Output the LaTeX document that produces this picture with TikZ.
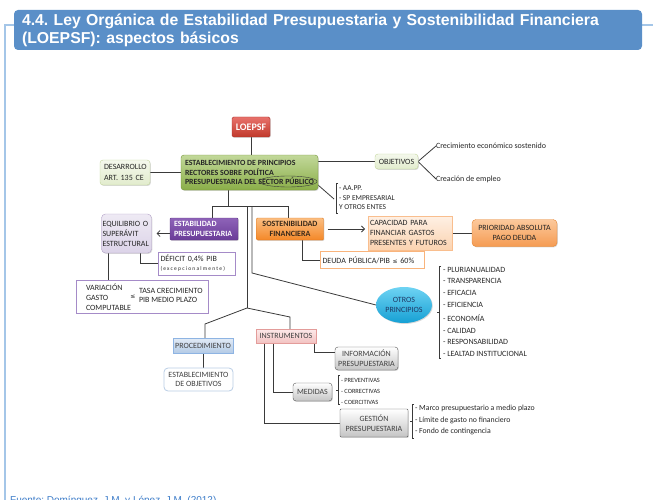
\documentclass[tikz,border=0pt]{standalone}
\usepackage{fontspec}
\setmainfont{Carlito}
\newfontfamily\headfont{Liberation Sans}
\newfontfamily\symfont{DejaVu Sans}
\usetikzlibrary{shadows,arrows.meta,shapes.geometric,calc}
\pgfdeclarelayer{background}
\pgfsetlayers{background,main}
\frenchspacing

\definecolor{hdrblue}{HTML}{5A8FC8}
\definecolor{framecol}{HTML}{A4C6E8}
\definecolor{srccol}{HTML}{3B7BC8}
\definecolor{lncol}{HTML}{3A3A3A}
\definecolor{txt}{HTML}{262626}
\definecolor{gtxt}{HTML}{404040}
\definecolor{redT}{HTML}{E8716B}
\definecolor{redB}{HTML}{C0392B}
\definecolor{redD}{HTML}{A8302A}
\definecolor{grnT}{HTML}{C2D89A}
\definecolor{grnB}{HTML}{8AAE48}
\definecolor{grnD}{HTML}{76963A}
\definecolor{lgrT}{HTML}{F4F8EC}
\definecolor{lgrB}{HTML}{E2ECCD}
\definecolor{lgrD}{HTML}{C3D69B}
\definecolor{purT}{HTML}{8E63B8}
\definecolor{purB}{HTML}{6A3C98}
\definecolor{purD}{HTML}{5F3787}
\definecolor{lpuT}{HTML}{EEEAF4}
\definecolor{lpuB}{HTML}{DCD3E8}
\definecolor{lpuD}{HTML}{B2A1C7}
\definecolor{wpuD}{HTML}{A58BC8}
\definecolor{orgT}{HTML}{FBBE82}
\definecolor{orgB}{HTML}{F48828}
\definecolor{orgD}{HTML}{E07A20}
\definecolor{orgX}{HTML}{3A2A1A}
\definecolor{pchT}{HTML}{FEF0E4}
\definecolor{pchB}{HTML}{FBD3B0}
\definecolor{pchD}{HTML}{F9BE8E}
\definecolor{priT}{HTML}{FCC99C}
\definecolor{priB}{HTML}{F59B52}
\definecolor{priD}{HTML}{E58430}
\definecolor{worD}{HTML}{F9B47C}
\definecolor{cyaT}{HTML}{6ED3F3}
\definecolor{cyaB}{HTML}{16A0D4}
\definecolor{cyaX}{HTML}{1F3864}
\definecolor{bluT}{HTML}{E2EBF6}
\definecolor{bluB}{HTML}{B4CBE6}
\definecolor{bluD}{HTML}{8EB4E3}
\definecolor{wblD}{HTML}{B9CDE5}
\definecolor{pnkT}{HTML}{FDEAEA}
\definecolor{pnkB}{HTML}{F2C2C1}
\definecolor{pnkD}{HTML}{E39C9A}
\definecolor{gryB}{HTML}{C4C4C4}
\definecolor{gryD}{HTML}{555555}

\tikzset{
  base/.style={inner sep=0pt, outer sep=0pt, text=txt, align=center,
    font=\fontsize{8}{10}\selectfont},
  shd/.style={drop shadow={shadow xshift=0.8pt, shadow yshift=-0.9pt, opacity=0.3}},
  ln/.style={draw=lncol, line width=0.8pt},
  brk/.style={draw=lncol, line width=0.5pt},
  barb/.style={-{Straight Barb[length=3pt,width=6pt]}},
  item/.style={base, anchor=west, align=left},
  redbox/.style={base, shd, rounded corners=1.5pt, top color=redT, bottom color=redB,
    draw=redD, text=white, font=\fontsize{10}{12}\selectfont\bfseries},
  greenbox/.style={base, shd, rounded corners=3pt, top color=grnT, bottom color=grnB,
    draw=grnD, font=\fontsize{7.9}{9.7}\selectfont\bfseries},
  lgreenbox/.style={base, shd, rounded corners=3pt, top color=lgrT, bottom color=lgrB,
    draw=lgrD},
  purplebox/.style={base, shd, rounded corners=1pt, top color=purT, bottom color=purB,
    draw=purD, text=white, font=\fontsize{8}{10}\selectfont\bfseries},
  lpurplebox/.style={base, shd, rounded corners=4pt, top color=lpuT, bottom color=lpuB,
    draw=lpuD},
  wpurplebox/.style={base, fill=white, draw=wpuD, line width=0.8pt},
  orangebox/.style={base, shd, rounded corners=1pt, top color=orgT, bottom color=orgB,
    draw=orgD, text=orgX, font=\fontsize{8}{10}\selectfont\bfseries},
  peachbox/.style={base, shd, top color=pchT, bottom color=pchB, draw=pchD},
  priobox/.style={base, shd, rounded corners=4pt, top color=priT, bottom color=priB,
    draw=priD},
  worangebox/.style={base, fill=white, draw=worD, line width=0.8pt},
  cyanell/.style={base, shd, ellipse, top color=cyaT, bottom color=cyaB, text=cyaX},
  bluebox/.style={base, shd, top color=bluT, bottom color=bluB, draw=bluD, text=gtxt},
  wbluebox/.style={base, fill=white, rounded corners=4pt, draw=wblD, line width=0.8pt,
    text=gtxt},
  pinkbox/.style={base, shd, top color=pnkT, bottom color=pnkB, draw=pnkD, text=gtxt},
  graybox/.style={base, shd, rounded corners=3pt, top color=white, bottom color=gryB,
    draw=gryD, text=gtxt},
}

\begin{document}
\begin{tikzpicture}[x=1pt,y=-1pt]
\useasboundingbox (0,0) rectangle (653,500);

% title bar and frame
\node[fill=hdrblue, rounded corners=4pt, inner xsep=8pt, inner ysep=0pt,
  minimum width=628pt, minimum height=40pt, text width=612pt, align=left, text=white,
  font=\headfont\bfseries\fontsize{15.8}{18}\selectfont] (hdr) at (328,30)
  {4.4. Ley Orgánica de Estabilidad Presupuestaria y Sostenibilidad Financiera\\
   (LOEPSF): aspectos básicos};
\begin{pgfonlayer}{background}
\draw[framecol, line width=1.1pt] (hdr.west |- 0,25) -- (5,25) -- (5,500);
\draw[framecol, line width=1.1pt] (hdr.east |- 0,25) -- (653,25);
\end{pgfonlayer}

% source line
\node[anchor=base west, inner sep=0pt, text=srccol,
  font=\headfont\fontsize{10}{12}\selectfont] (src) at (10,503)
  {Fuente: Domínguez, J.M. y López, J.M. (2012)};

% top of the tree
\node[redbox, minimum width=38pt, minimum height=20pt] (loepsf) at (251,127) {LOEPSF};
\node[greenbox, minimum width=137pt, minimum height=35pt, align=left] (central) at (249.5,172.5)
  {ESTABLECIMIENTO DE PRINCIPIOS\\RECTORES SOBRE POLÍTICA\\PRESUPUESTARIA DEL SECTOR PÚBLICO};
\node[draw=lncol, line width=0.4pt, ellipse, inner sep=0pt, minimum width=58pt,
  minimum height=11pt] (mark) at (288,181.5) {};
\node[lgreenbox, minimum width=50pt, minimum height=25pt, text width=42pt, align=left,
  font=\fontsize{8}{11}\selectfont] (des) at (125,172.5) {DESARROLLO\\ART. 135 CE};
\node[lgreenbox, minimum width=43pt, minimum height=15pt] (obj) at (396.5,161.5) {OBJETIVOS};
\node[item] (crec) at (436,146) {Crecimiento económico sostenido};
\node[item] (empl) at (436,179) {Creación de empleo};

\node[item, font=\fontsize{7.5}{9}\selectfont] (aapp) at (339,188) {- AA.PP.};
\node[item, font=\fontsize{7.5}{8.5}\selectfont] (spe) at (339,202.5) {- SP EMPRESARIAL\\Y OTROS ENTES};

% stability branch
\node[purplebox, minimum width=68pt, minimum height=22pt, text width=60pt, align=left]
  (est) at (204,229) {ESTABILIDAD\\PRESUPUESTARIA};
\node[lpurplebox, minimum width=50pt, minimum height=39pt, text width=48pt, align=left]
  (equi) at (126.5,233.5) {EQUILIBRIO O\\SUPERÁVIT\\ESTRUCTURAL};
\node[wpurplebox, minimum width=77pt, minimum height=23pt, text width=72pt, align=left]
  (def) at (196.5,263.5)
  {DÉFICIT 0,4\% PIB\\[-1pt]{\fontsize{5.5}{6}\selectfont\addfontfeature{LetterSpace=22}(excepcionalmente)}};
\node[wpurplebox, minimum width=132pt, minimum height=33pt] (var) at (142,296.5) {};
\node[item, font=\fontsize{8}{10}\selectfont] (varl) at (86,297) {VARIACIÓN\\GASTO\\COMPUTABLE};
\node[base, font=\symfont\fontsize{6}{7}\selectfont] (le) at (133,297) {≤};
\node[item, font=\fontsize{8}{9.5}\selectfont] (varr) at (139,295.5) {TASA CRECIMIENTO\\PIB MEDIO PLAZO};

% sustainability branch
\node[orangebox, minimum width=67pt, minimum height=22pt] (sost) at (290,229)
  {SOSTENIBILIDAD\\FINANCIERA};
\node[peachbox, minimum width=84pt, minimum height=34pt, text width=80pt, align=left,
  font=\fontsize{8}{9.7}\selectfont] (cap) at (410,233)
  {CAPACIDAD PARA\\FINANCIAR GASTOS\\PRESENTES Y FUTUROS};
\node[priobox, minimum width=85pt, minimum height=27pt] (prio) at (514.5,233)
  {PRIORIDAD ABSOLUTA\\PAGO DEUDA};
\node[worangebox, minimum width=104pt, minimum height=17pt, text width=99pt, align=left]
  (deuda) at (372,260) {DEUDA PÚBLICA/PIB {\symfont\fontsize{6}{7}\selectfont ≤} 60\%};

% other principles
\node[cyanell, minimum width=56pt, minimum height=36pt] (otros) at (404,305) {OTROS\\PRINCIPIOS};
\node[item] (p1) at (443,270) {- PLURIANUALIDAD};
\node[item] (p2) at (443,281) {- TRANSPARENCIA};
\node[item] (p3) at (443,293) {- EFICACIA};
\node[item] (p4) at (443,305) {- EFICIENCIA};
\node[item] (p5) at (443,318) {- ECONOMÍA};
\node[item] (p6) at (443,330.5) {- CALIDAD};
\node[item] (p7) at (443,342) {- RESPONSABILIDAD};
\node[item] (p8) at (443,353.5) {- LEALTAD INSTITUCIONAL};

% procedure and instruments
\node[bluebox, minimum width=60pt, minimum height=15pt] (proc) at (203,345.5) {PROCEDIMIENTO};
\node[wbluebox, minimum width=69pt, minimum height=23pt, font=\fontsize{8}{9.8}\selectfont]
  (estobj) at (198.5,379.5) {ESTABLECIMIENTO\\DE OBJETIVOS};
\node[pinkbox, minimum width=60pt, minimum height=14pt] (instr) at (286,336) {INSTRUMENTOS};
\node[graybox, minimum width=63pt, minimum height=23pt, font=\fontsize{8}{9.8}\selectfont]
  (info) at (366.5,358.5) {INFORMACIÓN\\PRESUPUESTARIA};
\node[graybox, minimum width=39pt, minimum height=18pt] (med) at (312.5,392) {MEDIDAS};
\node[item, font=\fontsize{6.4}{8}\selectfont] (m1) at (341,380) {- PREVENTIVAS};
\node[item, font=\fontsize{6.4}{8}\selectfont] (m2) at (341,391) {- CORRECTIVAS};
\node[item, font=\fontsize{6.4}{8}\selectfont] (m3) at (341,402) {- COERCITIVAS};
\node[graybox, rounded corners=1pt, minimum width=68pt, minimum height=28pt,
  font=\fontsize{8}{10.5}\selectfont] (gest) at (374,423) {GESTIÓN\\PRESUPUESTARIA};
\node[item, font=\fontsize{7.8}{9}\selectfont] (g1) at (415,408) {- Marco presupuestario a medio plazo};
\node[item, font=\fontsize{7.8}{9}\selectfont] (g2) at (415,420) {- Límite de gasto no financiero};
\node[item, font=\fontsize{7.8}{9}\selectfont] (g3) at (415,431.5) {- Fondo de contingencia};

% connectors
\coordinate (t0) at (228,206);
\coordinate (tL) at (212,206);
\coordinate (tR) at (288,206);
\coordinate (tM) at (247,206);
\coordinate (tN) at (252,206);
\coordinate (jn) at (247,308);
\coordinate (jl) at (205,324);
\coordinate (jr) at (290,317);
\coordinate (kn) at (252,273);
\coordinate (brA) at (334,199);

\begin{pgfonlayer}{background}
\draw[ln] (loepsf.south) -- (loepsf.south |- central.north);
\draw[ln] (des.east) -- (central.west |- des.east);
\draw[ln] (central.east |- obj.west) -- (obj.west);
\draw[ln] (obj.east) -- (crec.west);
\draw[ln] (obj.east) -- (empl.west);
\draw[ln] ($(central.south east)+(0,-5)$) -- (brA);
\draw[ln] (central.south -| t0) -- (t0);
\draw[ln] (est.north -| tL) -- (tL) -- (tR) -- (sost.north -| tR);
\draw[ln] (tM) -- (jn);
\draw[ln] (tN) -- (kn) -- (otros.west);
\draw[ln] (proc.north -| jl) -- (jl) -- (jn) -- (jr) -- (instr.north -| jr);
\draw[ln] (proc.south) -- (proc.south |- estobj.north);
\draw[ln] (instr.south -| 314,0) -- (314,352) -- (info.west |- 314,352);
\draw[ln] (instr.south -| 273,0) |- (med.west);
\draw[ln] (instr.south -| 264,0) |- (gest.west);
\draw[ln] (equi.south -| 140,0) |- (def.west);
\draw[ln] (equi.south -| 108,0) -- (var.north -| 108,0);
\draw[ln] (sost.south -| 302,0) |- (deuda.west);
\draw[ln] (cap.east) -- (prio.west);
\end{pgfonlayer}
\draw[ln, barb, shorten >=5pt] (est.west |- equi.east) -- (equi.east);
\draw[ln, barb, shorten <=4pt, shorten >=3pt] (sost.east) -- (sost.east -| cap.west);

% brackets
\draw[brk] (338,183) -- (336,183) -- (336,213) -- (338,213);
\draw[brk] (441,266) -- (439,266) -- (439,358) -- (441,358);
\draw[brk] (439,312) -- (437,312);
\draw[brk] (340,375) -- (338,375) -- (338,404) -- (340,404);
\draw[brk] (338,390) -- (336,390);
\draw[brk] (414,404) -- (412,404) -- (412,438) -- (414,438);
\draw[brk] (412,421) -- (410,421);
\end{tikzpicture}
\end{document}
